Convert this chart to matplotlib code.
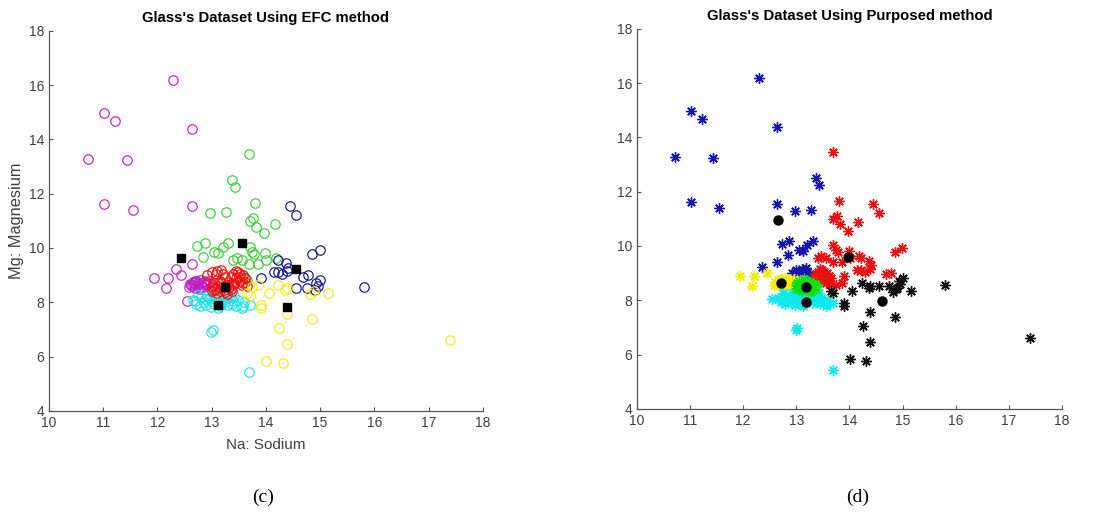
import numpy as np
from matplotlib import pyplot as plt

# each point: Na, Mg(scaled), cluster from EFC, cluster from purposed method
# efc: 0 magenta, 1 green, 2 red, 3 cyan, 4 blue, 5 yellow
# pm : 0 blue, 1 red, 2 black, 3 yellow, 4 green, 5 cyan
na = [12.29, 11.01, 11.22, 12.64, 10.72, 11.44, 11.01, 11.55, 12.64,
      12.63, 12.35, 11.94, 12.20, 12.16, 12.44, 12.55,
      12.58, 12.63, 12.68, 12.72, 12.75, 12.80, 12.85, 12.70, 12.78, 12.88, 12.65, 12.82, 12.92, 12.60,
      13.69, 13.38, 13.43, 13.80, 12.97, 13.27, 13.70, 13.76, 13.82, 14.16, 13.97,
      12.73, 12.87, 13.31, 13.21, 13.05, 13.12, 12.84, 13.70, 13.78, 13.75, 13.69, 13.86,
      13.47, 13.55, 13.99, 14.01, 14.18, 13.61, 13.65, 13.55, 13.40,
      13.00, 13.10, 13.20, 13.25, 12.92,
      13.05, 13.12, 13.20, 13.28, 13.35, 13.15, 13.05, 13.25, 13.40, 13.00, 13.30,
      13.45, 13.52, 13.58, 13.48, 13.62, 13.40, 13.55, 13.35,
      12.65, 12.72, 12.80, 12.85, 12.90, 12.95, 13.00, 13.05, 13.10, 13.15, 13.20, 13.25,
      13.30, 13.35, 13.40, 13.45, 13.55, 13.60, 13.70, 12.75, 13.05, 12.99, 13.02, 13.69,
      14.44, 14.56, 14.85, 14.99, 14.22, 14.37, 14.40, 14.15, 14.22, 14.30, 14.38, 13.90,
      14.69, 14.78, 15.00, 14.93, 14.96, 14.56, 14.75, 15.80, 14.90,
      17.39, 14.39, 14.25, 14.85, 14.01, 14.32, 14.39, 13.90, 13.90, 14.05, 14.23, 14.36,
      14.38, 14.82, 14.88, 15.15, 13.86, 13.65, 13.70, 13.75,
      # denser cores
      12.62, 12.67, 12.74, 12.79, 12.84, 12.90, 12.70, 12.76, 12.86, 12.95,
      13.02, 13.08, 13.18, 13.22, 13.32, 13.38, 13.10, 13.28, 13.42, 13.15, 13.36, 13.00,
      13.50, 13.58, 13.45, 13.62, 13.52, 13.66, 13.08, 13.18,
      12.70, 12.78, 12.88, 12.98, 13.08, 13.18, 13.28, 13.38, 13.48, 13.58, 12.92, 13.22, 13.12, 13.42]
mg = [16.19, 14.97, 14.68, 14.39, 13.28, 13.25, 11.61, 11.40, 11.53,
      9.40, 9.24, 8.91, 8.91, 8.51, 9.02, 8.05,
      8.55, 8.60, 8.70, 8.78, 8.62, 8.72, 8.66, 8.52, 8.50, 8.80, 8.75, 8.58, 8.70, 8.68,
      13.46, 12.51, 12.23, 11.66, 11.30, 11.33, 11.01, 11.09, 10.79, 10.88, 10.54,
      10.09, 10.19, 10.20, 10.02, 9.85, 9.81, 9.66, 10.04, 9.77, 9.85, 9.40, 9.40,
      9.63, 9.57, 9.83, 9.57, 9.63, 8.91, 8.81, 8.85, 9.56,
      9.10, 9.15, 9.05, 8.95, 9.00,
      8.70, 8.60, 8.55, 8.65, 8.50, 8.40, 8.45, 8.38, 8.62, 8.55, 8.75,
      8.90, 8.80, 9.00, 9.10, 8.75, 9.05, 8.65, 8.95,
      8.10, 7.95, 8.20, 8.00, 7.90, 8.15, 8.05, 7.95, 8.20, 7.85, 8.10, 8.00,
      7.90, 8.20, 8.05, 7.85, 7.80, 8.00, 7.90, 8.28, 8.30, 6.92, 6.98, 5.43,
      11.53, 11.21, 9.77, 9.93, 9.57, 9.45, 9.28, 9.10, 9.12, 9.05, 9.15, 8.88,
      8.95, 9.00, 8.83, 8.71, 8.59, 8.51, 8.51, 8.58, 8.45,
      6.61, 6.46, 7.05, 7.37, 5.84, 5.76, 7.57, 7.90, 7.80, 8.34, 8.62, 8.46,
      8.52, 8.29, 8.40, 8.35, 8.65, 8.35, 8.25, 8.55,
      8.65, 8.58, 8.70, 8.82, 8.55, 8.62, 8.80, 8.55, 8.75, 8.80,
      8.62, 8.50, 8.70, 8.45, 8.58, 8.40, 8.35, 8.30, 8.72, 8.80, 8.68, 8.40,
      8.95, 8.70, 9.15, 8.90, 9.05, 8.60, 9.05, 9.18,
      8.05, 7.85, 8.12, 7.82, 8.08, 7.98, 8.15, 7.92, 8.10, 7.88, 8.25, 8.25, 7.80, 8.25]
efc = ([0] * 30 + [1] * 32 + [2] * 24 + [3] * 24 + [4] * 21 + [5] * 20
       + [0] * 10 + [2] * 20 + [3] * 14)
pm = ([0] * 9 + [0, 0, 3, 3, 3, 3, 5] + [3] * 14
      + [1, 0, 0, 1, 0, 0, 1, 1, 1, 1, 1]
      + [0] * 7 + [1] * 5 + [1] * 9
      + [0] * 5 + [4] * 11 + [1] * 8
      + [5] * 24
      + [1] * 12 + [1, 1, 2, 2, 2, 2, 2, 2, 2]
      + [2] * 16 + [1, 2, 2, 1]
      + [3] * 10 + [4] * 12 + [1] * 6 + [0] * 2 + [5] * 14)

efc_cx = [12.44, 13.56, 14.55, 13.25, 13.12, 14.39]
efc_cy = [9.65, 10.18, 9.24, 8.56, 7.91, 7.84]
pm_cx = [12.65, 13.98, 12.72, 13.18, 13.18, 14.61]
pm_cy = [10.96, 9.58, 8.64, 8.48, 7.94, 7.99]

efc_colors = ['#c020c8', '#3ccc3c', '#ee1010', '#20e0e8', '#141494', '#f4ec10']
pm_colors = ['#1414a8', '#e81010', '#101010', '#f4ec00', '#10e010', '#10e8f0']

na = np.array(na)
mg = np.array(mg)
efc = np.array(efc)
pm = np.array(pm)

fig = plt.figure(figsize=(11, 5.13), dpi=100)
ax1 = fig.add_axes([0.0445, 0.199, 0.3945, 0.741])
ax2 = fig.add_axes([0.579, 0.203, 0.3864, 0.741])

for k in [0, 1, 3, 2, 4, 5]:
    m = efc == k
    ax1.plot(na[m], mg[m], 'o', ls='none', mfc='none', mec=efc_colors[k], ms=6.8, mew=0.85)
ax1.plot(efc_cx, efc_cy, 's', color='k', ms=5.5)

for k in [0, 3, 5, 4, 1, 2]:
    m = pm == k
    ax2.plot(na[m], mg[m], marker=(8, 2, 0), ls='none', color=pm_colors[k], ms=7.5, mew=1.0)
ax2.plot(pm_cx, pm_cy, 'o', color='k', ms=6.5)

for ax, title in [(ax1, "Glass's Dataset Using EFC method"),
                  (ax2, "Glass's Dataset Using Purposed method")]:
    ax.set_xlim(10, 18)
    ax.set_ylim(4, 18)
    ax.set_xticks(range(10, 19))
    ax.set_yticks(range(4, 19, 2))
    ax.spines['top'].set_visible(False)
    ax.spines['right'].set_visible(False)
    for s in ['left', 'bottom']:
        ax.spines[s].set_color('#555555')
        ax.spines[s].set_linewidth(0.9)
    ax.tick_params(direction='in', length=3, width=0.8, color='#555555',
                   labelcolor='#404040', labelsize=10)
    for lab in ax.get_xticklabels() + ax.get_yticklabels():
        lab.set_family('Liberation Sans')
    ax.set_title(title, fontsize=10.7, fontweight='bold', family='Liberation Sans', pad=6)

ax1.set_xlabel('Na: Sodium', fontsize=11, family='Liberation Sans', color='#404040', labelpad=6)
ax1.set_ylabel('Mg: Magnesium', fontsize=11.8, family='Liberation Sans', color='#404040', labelpad=3)

fig.text(0.239, 0.031, '(c)', ha='center', va='center', fontsize=14, family='Liberation Serif')
fig.text(0.78, 0.031, '(d)', ha='center', va='center', fontsize=14, family='Liberation Serif')

fig.savefig('out.png', dpi=100)
